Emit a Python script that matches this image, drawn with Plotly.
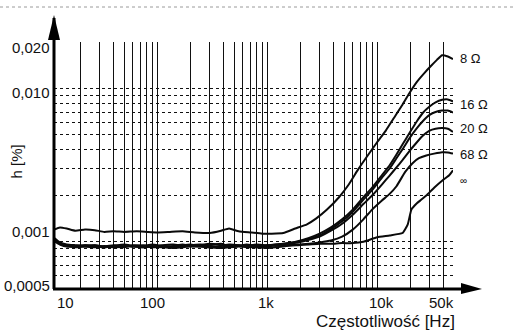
import numpy as np
import plotly.graph_objects as go

# Harmonic distortion h [%] versus frequency for several load impedances

# 8 ohm load
f_8 = [11.5, 13, 15, 18, 22, 27, 33, 40, 50, 65, 80, 100, 130, 170, 220, 300, 380, 450, 550,
       700, 900, 1100, 1400, 1800, 2300, 2800, 3500, 4500, 5500, 6700, 8000, 10000, 12000,
       14000, 17000, 19500, 23000, 27000, 31000, 35000, 39000, 44000, 49000]
h_8 = [1.20, 1.24, 1.22, 1.18, 1.20, 1.19, 1.16, 1.17, 1.16, 1.17, 1.16, 1.15, 1.16, 1.17, 1.15,
       1.14, 1.18, 1.22, 1.17, 1.15, 1.13, 1.13, 1.14, 1.22, 1.30, 1.42, 1.62, 1.95, 2.35, 2.95,
       3.55, 4.45, 5.3, 6.3, 7.8, 9.2, 11.0, 12.6, 14.0, 15.3, 16.4, 16.1, 15.5]

# 16 ohm load
f_16 = [11.5, 13, 15, 18, 22, 27, 33, 40, 50, 60, 75, 90, 110, 140, 170, 200, 250, 300, 380,
        450, 550, 650, 800, 1000, 1200, 1500, 1900, 2400, 3000, 3800, 4800, 6000, 7500, 9000,
        11000, 13000, 15000, 17000, 20000, 23000, 26000, 30000, 34000, 39000, 44000, 49000]
h_16 = [1.06, 0.99, 0.96, 0.95, 0.94, 0.95, 0.93, 0.95, 0.94, 0.93, 0.94, 0.96, 0.94, 0.93,
        0.95, 0.96, 0.94, 0.95, 0.97, 0.94, 0.95, 0.94, 0.96, 0.95, 0.96, 0.98, 1.01, 1.06,
        1.13, 1.24, 1.40, 1.62, 1.95, 2.25, 2.70, 3.15, 3.70, 4.30, 5.20, 6.10, 6.90, 7.60,
        8.10, 8.40, 8.45, 8.20]

# second 16 ohm trace
f_16b = [11.5, 13, 15, 18, 22, 27, 33, 40, 50, 60, 75, 90, 110, 140, 170, 200, 250, 300, 380,
         450, 550, 650, 800, 1000, 1200, 1500, 1900, 2400, 3000, 3800, 4800, 6000, 7500, 9000,
         11000, 13000, 15000, 17000, 20000, 23000, 26000, 30000, 34000, 39000, 44000, 49000]
h_16b = [1.03, 0.97, 0.94, 0.93, 0.95, 0.94, 0.92, 0.94, 0.96, 0.94, 0.92, 0.93, 0.95, 0.96,
         0.94, 0.93, 0.95, 0.97, 0.95, 0.93, 0.94, 0.96, 0.94, 0.93, 0.95, 0.97, 1.00, 1.04,
         1.10, 1.21, 1.36, 1.57, 1.88, 2.17, 2.60, 3.00, 3.50, 4.00, 4.80, 5.50, 6.10, 6.70,
         7.00, 7.15, 7.15, 6.95]

# 20 ohm load
f_20 = [11.5, 13, 15, 18, 22, 27, 33, 40, 50, 60, 75, 90, 110, 140, 170, 200, 250, 300, 380,
        450, 550, 650, 800, 1000, 1200, 1500, 1900, 2400, 3000, 3800, 4800, 6000, 7500, 9000,
        11000, 13000, 15000, 17000, 20000, 23000, 26000, 30000, 34000, 39000, 44000, 49000]
h_20 = [1.04, 0.98, 0.95, 0.94, 0.93, 0.92, 0.94, 0.93, 0.92, 0.95, 0.94, 0.92, 0.93, 0.94,
        0.96, 0.94, 0.93, 0.92, 0.94, 0.96, 0.95, 0.93, 0.92, 0.94, 0.96, 0.97, 0.99, 1.03,
        1.08, 1.18, 1.31, 1.50, 1.76, 2.00, 2.35, 2.70, 3.05, 3.40, 3.95, 4.45, 4.90, 5.30,
        5.45, 5.50, 5.45, 5.20]

# 68 ohm load
f_68 = [11.5, 13, 15, 18, 22, 27, 33, 40, 50, 60, 75, 90, 110, 140, 170, 200, 250, 300, 380,
        450, 550, 650, 800, 1000, 1200, 1500, 1900, 2400, 3000, 3800, 4800, 6000, 7500, 9000,
        11000, 13000, 15000, 18000, 21000, 24000, 28000, 33000, 39000, 44000, 49000]
h_68 = [1.02, 0.97, 0.94, 0.92, 0.93, 0.95, 0.93, 0.92, 0.93, 0.94, 0.95, 0.93, 0.92, 0.92,
        0.93, 0.95, 0.96, 0.94, 0.92, 0.93, 0.94, 0.92, 0.93, 0.95, 0.94, 0.95, 0.96, 0.97,
        0.99, 1.02, 1.08, 1.20, 1.40, 1.62, 1.85, 2.05, 2.30, 2.85, 3.25, 3.50, 3.65, 3.75,
        3.83, 3.82, 3.75]

# no load
f_inf = [11.5, 13, 15, 18, 22, 27, 33, 40, 50, 60, 75, 90, 110, 140, 170, 200, 250, 300, 380,
         450, 550, 650, 800, 1000, 1200, 1500, 1900, 2400, 3000, 3800, 4800, 6000, 7500, 10000,
         13000, 17000, 19000, 20500, 23000, 25000, 28000, 33000, 39000, 45000, 49000]
h_inf = [1.01, 0.96, 0.93, 0.94, 0.95, 0.93, 0.92, 0.93, 0.95, 0.93, 0.92, 0.94, 0.93, 0.91,
         0.92, 0.94, 0.93, 0.92, 0.91, 0.92, 0.93, 0.94, 0.92, 0.91, 0.92, 0.94, 0.95, 0.96,
         0.97, 0.97, 0.98, 0.98, 1.00, 1.07, 1.10, 1.14, 1.30, 1.62, 1.78, 1.87, 2.00, 2.25,
         2.50, 2.70, 2.92]

series = [(f_8, h_8), (f_16, h_16), (f_16b, h_16b), (f_20, h_20), (f_68, h_68), (f_inf, h_inf)]

# end-of-curve labels and their heights (h, %)
curve_labels = ["8 \u03a9", "16 \u03a9", "20 \u03a9", "68 \u03a9", "\u221e"]
curve_label_h = [0.0155, 0.0078, 0.0055, 0.0037, 0.0025]
curve_label_size = [13, 13, 13, 13, 10]

# axis ranges
X_MIN, X_MAX = 11.5, 49000
Y_MIN, Y_MAX = 0.0005, 0.02

# frequency grid lines and tick labels
x_grid = [d * m for m in (10, 100, 1000) for d in range(2, 11)] + [20000, 30000, 40000, 50000]
x_tick_vals = [10, 100, 1000, 10000, 50000]
x_tick_text = ["10", "100", "1k", "10k", "50k"]
x_tick_shift = [18, -5, -1, 4, -12]

# distortion grid lines and tick labels
y_grid = [m * d for m in (0.0001, 0.001) for d in range(5, 10)] + \
         [0.001 * d for d in range(1, 11)] + [0.02]
y_tick_vals = [0.02, 0.01, 0.001, 0.0005]
y_tick_text = ["0,020", "0,010", "0,001", "0,0005"]
y_tick_shift = [-5, -4, 10, 3]


def x_paper(v):
    return (np.log10(v) - np.log10(X_MIN)) / (np.log10(X_MAX) - np.log10(X_MIN))


def y_paper(v):
    return (np.log10(v) - np.log10(Y_MIN)) / (np.log10(Y_MAX) - np.log10(Y_MIN))


fig = go.Figure()
for f, h in series:
    fig.add_trace(go.Scatter(
        x=f, y=np.array(h) * 1e-3, mode="lines",
        line=dict(color="#0a0a0a", width=2.0, shape="spline", smoothing=0.4),
        showlegend=False, hoverinfo="skip"))

FONT = "Liberation Sans, Arial, sans-serif"
annotations = []
for v, t, s in zip(x_tick_vals, x_tick_text, x_tick_shift):
    annotations.append(dict(x=x_paper(v), y=0, xref="paper", yref="paper", text=t,
                            showarrow=False, xanchor="center", yanchor="top",
                            xshift=s, yshift=-4, font=dict(size=15, color="#111")))
for v, t, s in zip(y_tick_vals, y_tick_text, y_tick_shift):
    annotations.append(dict(x=0, y=y_paper(v), xref="paper", yref="paper", text=t,
                            showarrow=False, xanchor="right", yanchor="middle",
                            xshift=-2, yshift=s, font=dict(size=15, color="#111")))
for t, hv, fs in zip(curve_labels, curve_label_h, curve_label_size):
    annotations.append(dict(x=1, y=y_paper(hv), xref="paper", yref="paper", text=t,
                            showarrow=False, xanchor="left", yanchor="middle",
                            xshift=5, font=dict(size=fs, color="#111")))
annotations.append(dict(x=1.01, y=-0.135, xref="paper", yref="paper",
                        text="Cz\u0119stotliwo\u015b\u0107 [Hz]", showarrow=False,
                        xanchor="right", yanchor="middle", font=dict(size=17, color="#111")))
annotations.append(dict(x=-0.095, y=0.515, xref="paper", yref="paper", text="h [%]",
                        textangle=-90, showarrow=False, xanchor="center", yanchor="middle",
                        font=dict(size=15, color="#111")))

px_x = 1 / 399.0
px_y = 1 / 246.0
shapes = [
    # vertical axis with arrow
    dict(type="line", xref="paper", yref="paper", x0=0, x1=0, y0=-1 * px_y, y1=1 + 24 * px_y,
         line=dict(color="#000", width=3)),
    dict(type="path", xref="paper", yref="paper", fillcolor="#000", line=dict(width=0),
         path=f"M {-6 * px_x} {1 + 2 * px_y} L {6 * px_x} {1 + 2 * px_y} "
              f"L 0 {1 + 27 * px_y} Z"),
    # horizontal axis with arrow
    dict(type="line", xref="paper", yref="paper", x0=-1 * px_x, x1=1 + 14 * px_x,
         y0=-1 * px_y, y1=-1 * px_y, line=dict(color="#000", width=3)),
    dict(type="path", xref="paper", yref="paper", fillcolor="#000", line=dict(width=0),
         path=f"M {1 + 8 * px_x} {5 * px_y} L {1 + 8 * px_x} {-6 * px_y} "
              f"L {1 + 29 * px_x} {-1 * px_y} Z"),
    # page rule along the top
    dict(type="line", xref="paper", yref="paper", x0=-54 * px_x, x1=1 + 60 * px_x,
         y0=1 + 35 * px_y, y1=1 + 35 * px_y, line=dict(color="#9a9a9a", width=1, dash="dot")),
]

fig.update_layout(
    width=513, height=330,
    margin=dict(l=54, r=60, t=42, b=42),
    paper_bgcolor="white", plot_bgcolor="white",
    font=dict(family=FONT, color="#111"),
    xaxis=dict(type="log", range=[np.log10(X_MIN), np.log10(X_MAX)],
               tickvals=x_grid, showticklabels=False, ticks="",
               showgrid=True, gridcolor="#111111", gridwidth=1,
               zeroline=False, showline=False, fixedrange=True),
    yaxis=dict(type="log", range=[np.log10(Y_MIN), np.log10(Y_MAX)],
               tickvals=y_grid, showticklabels=False, ticks="",
               showgrid=True, gridcolor="#111111", gridwidth=1, griddash="dot",
               zeroline=False, showline=False, fixedrange=True),
    annotations=annotations,
    shapes=shapes,
    showlegend=False,
)

fig.write_html("out.html")
